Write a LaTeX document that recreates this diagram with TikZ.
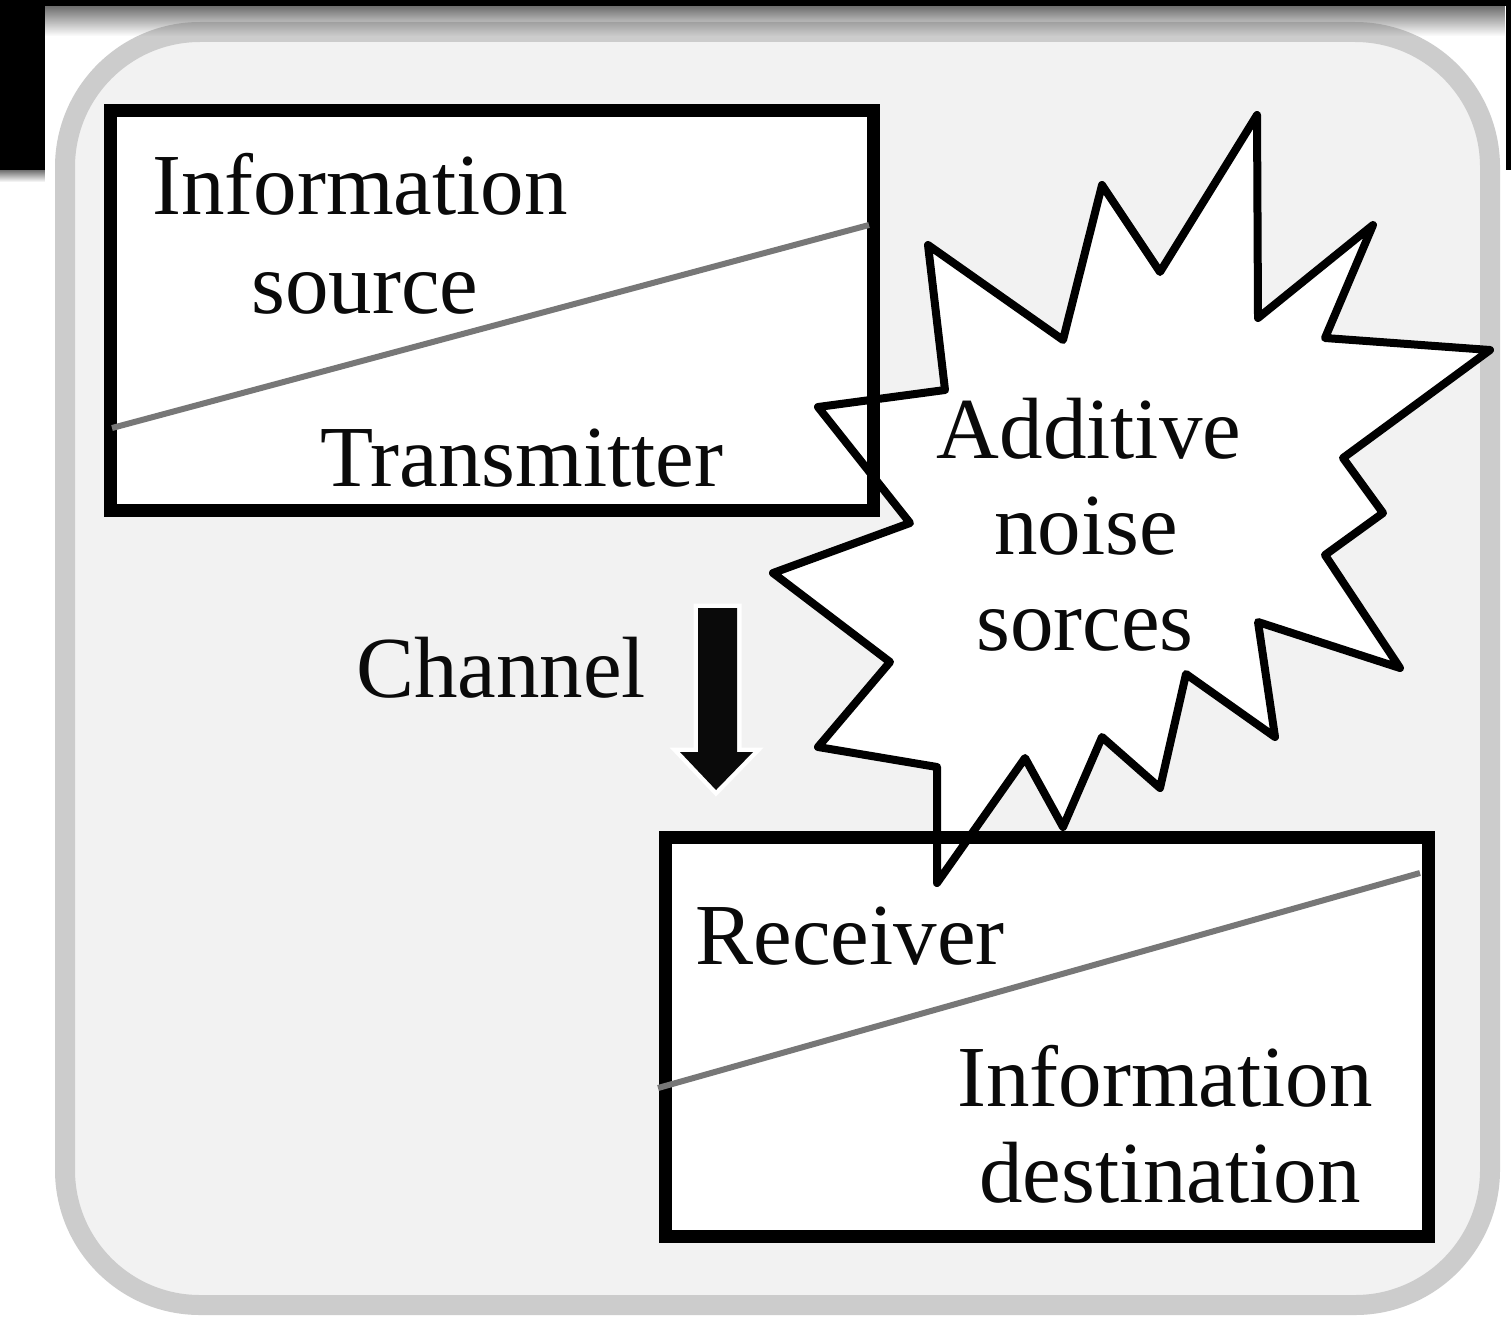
\documentclass[tikz,border=0pt]{standalone}
\usepackage{fontspec}
\setmainfont{Liberation Serif}
\usetikzlibrary{fadings}
\definecolor{bgpanel}{HTML}{F2F2F2}
\definecolor{panelborder}{HTML}{CCCCCC}
\definecolor{ink}{HTML}{0A0A0A}
\definecolor{diag}{HTML}{777777}
\definecolor{shadowgray}{HTML}{6E6E6E}
\tikzset{
  lbl/.style={font=\fontsize{87}{100}\selectfont, text=ink, inner sep=0pt, anchor=base},
  boxfill/.style={fill=white, draw=none, inner sep=0pt, minimum width=763pt, minimum height=399pt, anchor=north west},
  boxborder/.style={draw=black, line width=13pt, line join=miter},
  divider/.style={draw=diag, line width=6pt},
  burst/.style={fill=white, draw=black, line width=8pt, line join=round},
  panel/.style={fill=bgpanel, draw=panelborder, line width=20pt, rounded corners=135pt},
}
\begin{document}
\begin{tikzpicture}[x=1pt,y=-1pt]
\useasboundingbox (0,0) rectangle (1511,1319);
\fill[white] (0,0) rectangle (1511,1319);
% panel
\draw[panel] (65,32) rectangle (1490,1305);
% top shadow bar and black pieces
\fill[shadowgray, path fading=south] (45,6) rectangle (1506,36);
\fill[black] (0,0) rectangle (1511,6);
\fill[black] (0,0) rectangle (45,170);
\fill[black] (1506,0) rectangle (1511,170);
\fill[shadowgray, path fading=south] (0,170) rectangle (45,182);
% box fills
\node[boxfill] (b1) at (110,111) {};
\node[boxfill] (b2) at (665,837) {};
% noise burst
\draw[burst] (1257,115) -- (1258,318) -- (1373,225) -- (1325,338) -- (1490,350)
  -- (1343,458) -- (1383,513) -- (1325,555) -- (1400,668) -- (1258,622)
  -- (1275,737) -- (1186,674) -- (1160,788) -- (1102,737) -- (1063,827)
  -- (1025,758) -- (937,883) -- (937,767) -- (818,747) -- (890,662)
  -- (773,573) -- (910,523) -- (818,407) -- (945,390) -- (928,245)
  -- (1063,340) -- (1102,185) -- (1160,272) -- cycle;
% box borders
\draw[boxborder] (b1.north west) rectangle (b1.south east);
\draw[boxborder] (b2.north west) rectangle (b2.south east);
% dividers
\coordinate (d1a) at (112,428);
\coordinate (d1b) at (869,225);
\coordinate (d2a) at (658,1088);
\coordinate (d2b) at (1420,873);
\draw[divider] (d1a) -- (d1b);
\draw[divider] (d2a) -- (d2b);
% labels
\node[lbl] (t1a) at (360,214) {Information};
\node[lbl] (t1b) at (365,313) {source};
\node[lbl] (t1c) at (522,486) {Transmitter};
\node[lbl] (t2a) at (1089,458) {Additive};
\node[lbl] (t2b) at (1086,554) {noise};
\node[lbl] (t2c) at (1085,650) {sorces};
\node[lbl] (t3) at (501,697) {Channel};
\node[lbl] (t4a) at (850,964) {Receiver};
\node[lbl] (t4b) at (1165,1106) {Information};
\node[lbl] (t4c) at (1170,1202) {destination};
% channel arrow
\draw[white, line width=9pt, line join=miter, fill=white]
  (698,608) -- (737,608) -- (737,752) -- (753,752) -- (716,790) -- (680,752) -- (698,752) -- cycle;
\fill[ink] (698,608) -- (737,608) -- (737,752) -- (753,752) -- (716,790) -- (680,752) -- (698,752) -- cycle;
\end{tikzpicture}
\end{document}
